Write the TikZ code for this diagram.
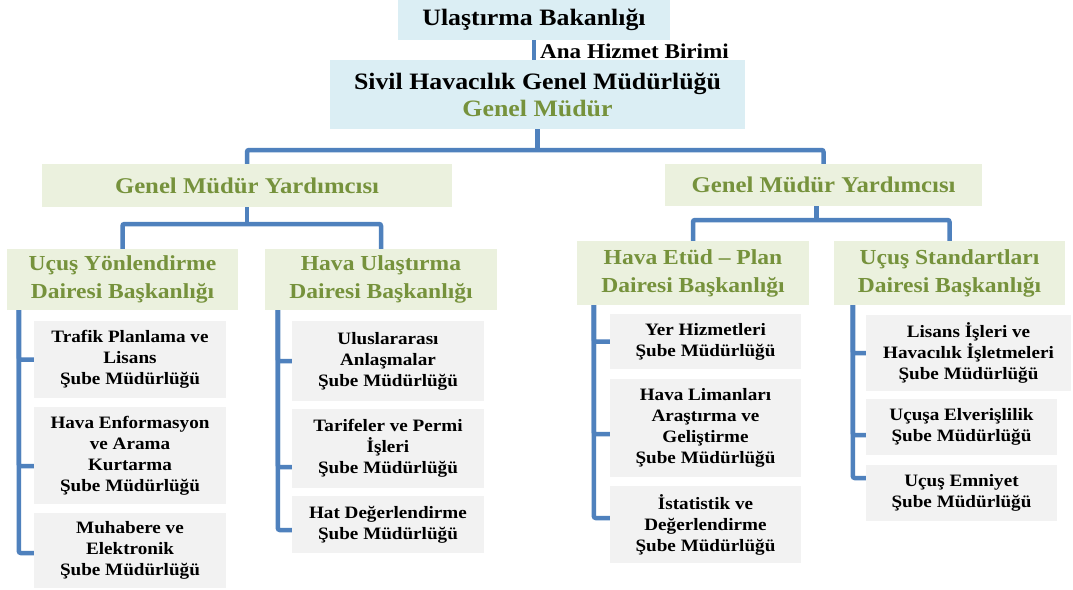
\documentclass[tikz,border=0pt]{standalone}
\usepackage{fontspec}
\setmainfont{Liberation Serif}[FakeStretch=1.1]
\definecolor{connblue}{HTML}{4F81BD}
\definecolor{boxblue}{HTML}{DBEEF4}
\definecolor{boxgreen}{HTML}{EBF1DE}
\definecolor{boxgray}{HTML}{F2F2F2}
\definecolor{txtgreen}{HTML}{76923C}
\begin{document}
\begin{tikzpicture}[x=1pt,y=-1pt,
  box/.style={rectangle, inner sep=0pt, align=center},
  bluebox/.style={box, fill=boxblue, font=\fontsize{23.5}{27}\selectfont\bfseries},
  gmybox/.style={box, fill=boxgreen, text=txtgreen, font=\fontsize{22.5}{27}\selectfont\bfseries},
  dairebox/.style={box, fill=boxgreen, text=txtgreen, font=\fontsize{21.4}{28}\selectfont\bfseries},
  subebox/.style={box, fill=boxgray, font=\fontsize{17.4}{21}\selectfont\bfseries},
  conn/.style={draw=connblue, line width=4.5pt, rounded corners=2pt}
]
\useasboundingbox (0,0) rectangle (1073,589);
\fill[white] (0,0) rectangle (1073,589);

% top level
\node[bluebox, minimum width=272pt, minimum height=40pt] (top) at (534,20) {Ulaştırma Bakanlığı};
\node[bluebox, minimum width=415pt, minimum height=69pt] (sivil) at (537.5,94.5)
  {Sivil Havacılık Genel Müdürlüğü\\\textcolor{txtgreen}{Genel Müdür}};
\node[anchor=west, inner sep=0pt, font=\fontsize{21}{24}\selectfont\bfseries] (ana) at (540,51.5) {Ana Hizmet Birimi};

% deputies
\node[gmybox, minimum width=410pt, minimum height=43pt] (gmyL) at (247,185.5) {Genel Müdür Yardımcısı};
\node[gmybox, minimum width=317pt, minimum height=42pt] (gmyR) at (823.5,185) {Genel Müdür Yardımcısı};

% departments
\node[dairebox, minimum width=231pt, minimum height=61pt] (uyd) at (122.5,279.5) {Uçuş Yönlendirme\\Dairesi Başkanlığı};
\node[dairebox, minimum width=232pt, minimum height=61pt] (hud) at (381,279.5) {Hava Ulaştırma\\Dairesi Başkanlığı};
\node[dairebox, minimum width=232pt, minimum height=64pt] (hep) at (693,273) {Hava Etüd -- Plan\\Dairesi Başkanlığı};
\node[dairebox, minimum width=231pt, minimum height=64pt] (usd) at (949.5,273) {Uçuş Standartları\\Dairesi Başkanlığı};

% branches
\node[subebox, minimum width=192pt, minimum height=77pt] (t1) at (130,359.5) {Trafik Planlama ve\\Lisans\\Şube Müdürlüğü};
\node[subebox, minimum width=192pt, minimum height=97pt] (t2) at (130,455.5) {Hava Enformasyon\\ve Arama\\Kurtarma\\Şube Müdürlüğü};
\node[subebox, minimum width=192pt, minimum height=75pt] (t3) at (130,550.5) {Muhabere ve\\Elektronik\\Şube Müdürlüğü};

\node[subebox, minimum width=192pt, minimum height=80pt] (u1) at (388,361) {Uluslararası\\Anlaşmalar\\Şube Müdürlüğü};
\node[subebox, minimum width=192pt, minimum height=79pt] (u2) at (388,448.5) {Tarifeler ve Permi\\İşleri\\Şube Müdürlüğü};
\node[subebox, minimum width=192pt, minimum height=57pt] (u3) at (388,524.5) {Hat Değerlendirme\\Şube Müdürlüğü};

\node[subebox, minimum width=191pt, minimum height=55pt] (y1) at (705.5,341.5) {Yer Hizmetleri\\Şube Müdürlüğü};
\node[subebox, minimum width=191pt, minimum height=98pt] (y2) at (705.5,428) {Hava Limanları\\Araştırma ve\\Geliştirme\\Şube Müdürlüğü};
\node[subebox, minimum width=191pt, minimum height=77pt] (y3) at (705.5,524.5) {İstatistik ve\\Değerlendirme\\Şube Müdürlüğü};

\node[subebox, minimum width=205pt, minimum height=76pt] (l1) at (968.5,353) {Lisans İşleri ve\\Havacılık İşletmeleri\\Şube Müdürlüğü};
\node[subebox, minimum width=191pt, minimum height=56pt] (l2) at (961.5,427) {Uçuşa Elverişlilik\\Şube Müdürlüğü};
\node[subebox, minimum width=191pt, minimum height=56pt] (l3) at (961.5,493) {Uçuş Emniyet\\Şube Müdürlüğü};

% connectors
\draw[conn] (top.south) -- (top.south |- sivil.north);
\coordinate (busA) at (0,150);
\draw[conn] (sivil.south) -- (sivil.south |- busA);
\draw[conn] (gmyL.north) -- (gmyL.north |- busA) -- (gmyR.north |- busA) -- (gmyR.north);

\coordinate (busL) at (0,224);
\draw[conn] (gmyL.south) -- (gmyL.south |- busL);
\draw[conn] (uyd.north) -- (uyd.north |- busL) -- (hud.north |- busL) -- (hud.north);

\coordinate (busR) at (0,220);
\coordinate (gmyRdown) at ([xshift=-7pt]gmyR.south);
\draw[conn] (gmyRdown) -- (gmyRdown |- busR);
\draw[conn] (hep.north) -- (hep.north |- busR) -- (usd.north |- busR) -- (usd.north);

% brackets
\coordinate (b1) at ([xshift=12pt]uyd.south west);
\draw[conn] (b1) |- (t1.west);
\draw[conn] (b1) |- ([yshift=-10.5pt]t2.west);
\draw[conn] (b1) |- ([yshift=-2.5pt]t3.west);

\coordinate (b2) at ([xshift=13pt]hud.south west);
\draw[conn] (b2) |- (u1.west);
\draw[conn] (b2) |- ([yshift=-18.5pt]u2.west);
\draw[conn] (b2) |- ([yshift=-5.5pt]u3.west);

\coordinate (b3) at ([xshift=17pt]hep.south west);
\draw[conn] (b3) |- (y1.west);
\draw[conn] (b3) |- ([yshift=-6pt]y2.west);
\draw[conn] (b3) |- ([yshift=6.5pt]y3.west);

\coordinate (b4) at ([xshift=19pt]usd.south west);
\draw[conn] (b4) |- (l1.west);
\draw[conn] (b4) |- ([yshift=-8pt]l2.west);
\draw[conn] (b4) |- ([yshift=15pt]l3.west);
\end{tikzpicture}
\end{document}
